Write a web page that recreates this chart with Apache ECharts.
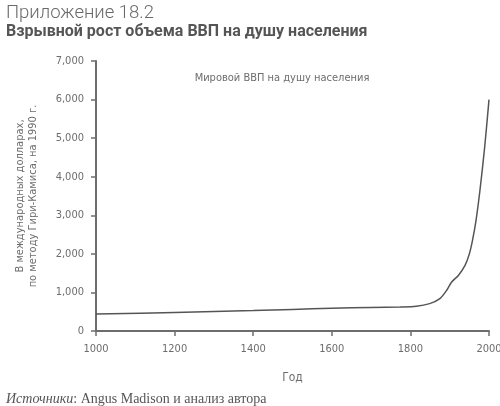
<!DOCTYPE html>
<html>
  <head>
    <meta charset="utf-8" />
    <script src="https://cdn.jsdelivr.net/npm/echarts@6.0.0/dist/echarts.min.js"></script>
    <style>
      body { margin: 0; background: #fff; }
    </style>
  </head>
  <body>
    <div id="main" style="width: 500px; height: 406px"></div>

    <script type="text/javascript">
      // world GDP per capita, 1990 Geary-Khamis dollars
      var years = [1000, 1200, 1400, 1500, 1600, 1700, 1773, 1815, 1849, 1875, 1892, 1905, 1922, 1939, 1950, 1958, 1967, 1977, 1989, 2000];
      var gdp = [440, 480, 530, 560, 590, 610, 622, 640, 710, 840, 1050, 1270, 1440, 1700, 2000, 2350, 2870, 3650, 4770, 6000];

      var condensed = "'DejaVu Sans Condensed', 'Liberation Sans Narrow', sans-serif";
      var grey = "#6d6d6d";

      var myChart = echarts.init(document.getElementById("main"));

      var option = {
        animation: false,
        title: [
          {
            text: "Приложение 18.2",
            left: 1,
            top: -1,
            textStyle: { fontFamily: "Roboto", fontWeight: 300, fontSize: 18.5, color: "#6a6a6a" },
          },
          {
            text: "Взрывной рост объема ВВП на душу населения",
            left: 1,
            top: 19,
            textStyle: { fontFamily: "Roboto", fontWeight: "bold", fontSize: 16, color: "#555" },
          },
          {
            text: "Мировой ВВП на душу населения",
            left: 277,
            textAlign: "center",
            top: 68,
            textStyle: { fontFamily: condensed, fontWeight: "normal", fontSize: 11, color: grey },
          },
          {
            text: "{i|Источники}: Angus Madison и анализ автора",
            left: 1,
            top: 387,
            textStyle: {
              fontFamily: "'Liberation Serif', serif",
              fontWeight: "normal",
              fontSize: 14,
              color: "#555",
              rich: {
                i: { fontFamily: "'Liberation Serif', serif", fontStyle: "italic", fontSize: 14, color: "#555" },
              },
            },
          },
        ],
        grid: { left: 96, right: 11, top: 61, bottom: 75, outerBoundsMode: "none" },
        xAxis: {
          type: "value",
          min: 1000,
          max: 2000,
          interval: 200,
          name: "Год",
          nameLocation: "middle",
          nameGap: 41,
          nameTextStyle: { fontFamily: condensed, fontSize: 12, color: grey },
          axisLine: { lineStyle: { color: grey, width: 2 } },
          axisTick: { show: true, length: 5, lineStyle: { color: grey, width: 1.5 } },
          axisLabel: {
            fontFamily: condensed,
            fontSize: 11,
            color: grey,
            margin: 13,
            formatter: function (v) { return String(v); },
          },
          splitLine: { show: false },
        },
        yAxis: {
          type: "value",
          min: 0,
          max: 7000,
          interval: 1000,
          name: "В международных долларах,\nпо методу Гири-Камиса, на 1990 г.",
          nameLocation: "middle",
          nameGap: 56,
          nameTextStyle: { fontFamily: condensed, fontSize: 11, color: grey, lineHeight: 13 },
          axisLine: { show: true, lineStyle: { color: grey, width: 2 } },
          axisTick: { show: true, length: 5, lineStyle: { color: grey, width: 1.5 } },
          axisLabel: {
            fontFamily: condensed,
            fontSize: 11,
            color: grey,
            margin: 12,
            formatter: function (v) { return v.toLocaleString("en-US"); },
          },
          splitLine: { show: false },
        },
        series: [
          {
            type: "line",
            data: years.map(function (y, i) { return [y, gdp[i]]; }),
            smooth: 0.3,
            showSymbol: false,
            lineStyle: { color: "#555", width: 1.5 },
          },
        ],
      };

      myChart.setOption(option);
    </script>
  </body>
</html>
